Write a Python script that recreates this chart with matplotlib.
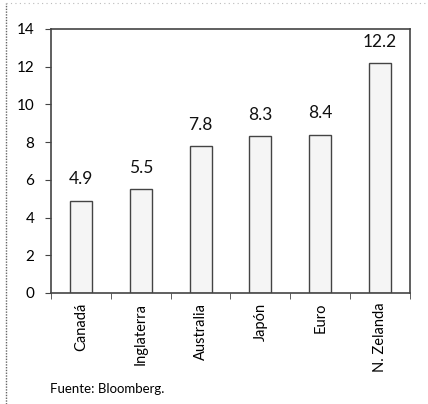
import matplotlib
matplotlib.use("Agg")
import matplotlib.pyplot as plt
from matplotlib.lines import Line2D

categories = ["Canadá", "Inglaterra", "Australia", "Japón", "Euro", "N. Zelanda"]
values = [4.9, 5.5, 7.8, 8.3, 8.4, 12.2]
yticks = [0, 2, 4, 6, 8, 10, 12, 14]

plt.rcParams['font.family'] = ['Lato', 'DejaVu Sans']

fig = plt.figure(figsize=(4.28, 4.04), dpi=100)
W, H = 428, 404
ax = fig.add_axes([51 / W, 1 - 293 / H, (410 - 51) / W, (293 - 29) / H])

x = list(range(len(categories)))
bars = ax.bar(x, values, width=0.37, color="#f5f5f5", edgecolor="#444444", linewidth=1.0)
for xi, v in zip(x, values):
    ax.text(xi, v + 0.7, f"{v}", ha="center", va="bottom", fontsize=12.5, color="#111111")

ax.set_xlim(-0.5, len(categories) - 0.5)
ax.set_ylim(0, 14)
ax.set_yticks(yticks)
ax.set_yticklabels([str(t) for t in yticks], fontsize=11)
ax.set_xticks(x)
ax.set_xticklabels(categories, rotation=90, fontsize=10.5)
ax.tick_params(axis="x", length=0, pad=7)
ax.set_xticks([i - 0.5 for i in range(len(categories) + 1)], minor=True)
ax.tick_params(axis="x", which="minor", length=4, direction="out", color="#444444")
ax.tick_params(axis="y", length=4, direction="out", color="#444444", pad=8)
for s in ax.spines.values():
    s.set_color("#444444")
    s.set_linewidth(1.2)

fig.text(50 / W, 1 - 389 / H, "Fuente: Bloomberg.", fontsize=9.5, va="center", ha="left")

# outer dotted frame line at left and top
fig.add_artist(Line2D([6 / W, 6 / W], [0, 1 - 3 / H], transform=fig.transFigure,
                      color="#666666", linestyle=(0, (1, 1)), linewidth=1.0))
fig.add_artist(Line2D([6 / W, 1], [1 - 3 / H, 1 - 3 / H], transform=fig.transFigure,
                      color="#bbbbbb", linestyle=(0, (1, 3)), linewidth=0.8))

fig.savefig("out.png", dpi=100)
